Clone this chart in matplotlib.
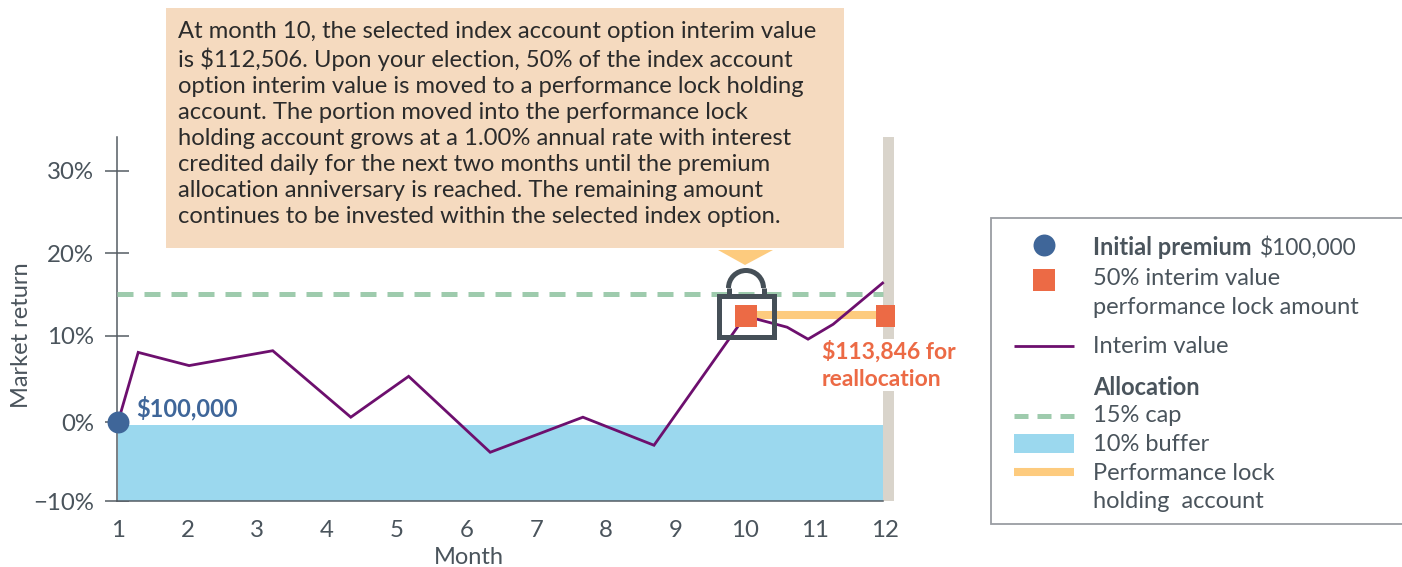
import matplotlib
matplotlib.use("Agg")
import matplotlib.pyplot as plt
from matplotlib.patches import Rectangle, Polygon, Arc

plt.rcParams['font.family'] = ['Lato', 'DejaVu Sans']

W, H = 1402, 567

# values
months = [1, 1.29, 2.02, 3.22, 4.34, 5.17, 6.34, 7.67, 8.69, 10.0, 10.6, 10.9, 11.26, 11.97]
interim_value = [-0.45, 8.0, 6.4, 8.2, 0.15, 5.1, -4.1, 0.15, -3.25, 12.4, 11.05, 9.6, 11.4, 16.4]
month_ticks = list(range(1, 13))
return_ticks = [-10, -0.45, 10, 20, 30]
return_labels = ['\u221210%', '0%', '10%', '20%', '30%']
cap_level = 15.1
buffer_top = -0.8
buffer_bottom = -10
lock_level = 12.4
lock_band = 12.55
lock_months = [10.01, 12.03]
plot_end = 11.97

callout = ("At month 10, the selected index account option interim value\n"
           "is $112,506. Upon your election, 50% of the index account\n"
           "option interim value is moved to a performance lock holding\n"
           "account. The portion moved into the performance lock\n"
           "holding account grows at a 1.00% annual rate with interest\n"
           "credited daily for the next two months until the premium\n"
           "allocation anniversary is reached. The remaining amount\n"
           "continues to be invested within the selected index option.")

PURPLE = '#6d0f6e'
BLUE = '#3f6699'
ORANGE = '#ec6a45'
GREEN = '#9ecbad'
SKY = '#9bd8ee'
AMBER = '#fdcb7e'
PEACH = '#f5dabf'
BAR = '#d9d4cb'
SLATE = '#4a545c'
LOCK = '#454f57'
FS = 17

fig = plt.figure(figsize=(W / 100, H / 100), dpi=100)

# main axes, placed by pixel
left, right, top, bottom = 116.5, 894, 137, 501
ax = fig.add_axes([left / W, 1 - bottom / H, (right - left) / W, (bottom - top) / H])
xmin, xmax = 1 + (left - 118) / 69.7, 1 + (right - 118) / 69.7
ax.set_xlim(xmin, xmax)
ax.set_ylim(-10, 30 + (170.7 - top) / 8.25)
for s in ['top', 'right']:
    ax.spines[s].set_visible(False)
for s in ['left', 'bottom']:
    ax.spines[s].set_color('#555c63')
    ax.spines[s].set_linewidth(1.1)
ax.spines['bottom'].set_bounds(xmin, plot_end)

ax.axvspan(plot_end, xmax, color=BAR, lw=0, zorder=1)
ax.fill_between([1, plot_end], buffer_bottom, buffer_top, color=SKY, lw=0, zorder=2)
ax.plot([xmin, plot_end], [cap_level, cap_level], color=GREEN, lw=3.6, dashes=(3.2, 2.2), zorder=3)
ax.plot(lock_months, [lock_band, lock_band], color=AMBER, lw=5.8, solid_capstyle='butt', zorder=3)
ax.plot(months, interim_value, color=PURPLE, lw=2.0, zorder=4, solid_joinstyle='miter')
ax.plot(lock_months, [lock_level, lock_level], ls='none', marker='s', ms=15.8, color=ORANGE, mew=0, zorder=6)
ax.plot(months[0], interim_value[0], marker='o', ms=15.8, color=BLUE, mew=0, zorder=6, clip_on=False)

ax.set_xticks(month_ticks)
ax.set_yticks(return_ticks, return_labels)
ax.tick_params(axis='x', length=0, pad=14, labelsize=17.3, labelcolor=SLATE)
ax.tick_params(axis='y', direction='inout', length=17, width=1.1, color='#555c63', pad=7.5,
               labelsize=17.3, labelcolor=SLATE)

# overlay in pixels for the annotations and the legend
ov = fig.add_axes([0, 0, 1, 1], facecolor='none')
ov.set_xlim(0, W)
ov.set_ylim(H, 0)
ov.axis('off')

ov.text(469, 558, 'Month', fontsize=FS, color=SLATE, ha='center', va='center')
ov.text(22, 335, 'Market return', fontsize=FS, color=SLATE, ha='center', va='center', rotation=90)

ov.add_patch(Rectangle((166, 8), 678, 240, fc=PEACH, ec='none'))
ov.text(178, 20.5, callout, fontsize=17.1, color='#2b2b2b', va='top', linespacing=1.3)
ov.add_patch(Polygon([(718, 250), (773, 250), (745, 265)], fc=AMBER, ec='none'))

# padlock
ov.add_patch(Rectangle((718.5, 295.5), 55, 41, fc='none', ec=LOCK, lw=3.6, zorder=5))
ov.add_patch(Arc((746, 288), 35, 35, theta1=180, theta2=360, ec=LOCK, lw=3.6, zorder=5))
ov.plot([728.5, 728.5], [288, 296], color=LOCK, lw=3.6, solid_capstyle='butt')
ov.plot([763.5, 763.5], [288, 296], color=LOCK, lw=3.6, solid_capstyle='butt')

ov.text(136, 408, '$100,000', fontsize=FS, fontweight='bold', color=BLUE, va='center')
ov.text(822, 365, '$113,846 for\nreallocation', fontsize=16.5, fontweight='bold', color=ORANGE,
        va='center', linespacing=1.4, bbox=dict(fc='white', ec='none', pad=1))

# legend
ov.add_patch(Rectangle((991, 218), 420, 306, fc='white', ec='#9a9da3', lw=1.3))
ov.plot(1044, 245, marker='o', ms=15.8, color=BLUE, mew=0)
ov.plot(1044, 280, marker='s', ms=15.8, color=ORANGE, mew=0)
ov.plot([1014, 1074], [345.5, 345.5], color=PURPLE, lw=2.0, solid_capstyle='butt')
ov.plot([1014, 1074], [416, 416], color=GREEN, lw=3.6, dashes=(2.8, 1.8))
ov.add_patch(Rectangle((1014, 434), 60, 19, fc=SKY, ec='none'))
ov.plot([1014, 1074], [472, 472], color=AMBER, lw=5.8, solid_capstyle='butt')

ov.text(1093, 247.5, 'Initial premium', fontsize=FS, fontweight='bold', color=SLATE, va='center')
ov.text(1260, 247.5, '$100,000', fontsize=16.3, color=SLATE, va='center')
for y, s in [(278.5, '50% interim value'), (307.5, 'performance lock amount'), (346.5, 'Interim value'),
             (415.5, '15% cap'), (444.5, '10% buffer'), (473.5, 'Performance lock'), (501.5, 'holding  account')]:
    ov.text(1093, y, s, fontsize=FS, color=SLATE, va='center')
ov.text(1093, 387.5, 'Allocation', fontsize=FS, fontweight='bold', color=SLATE, va='center')

fig.savefig('out.png', dpi=100)
